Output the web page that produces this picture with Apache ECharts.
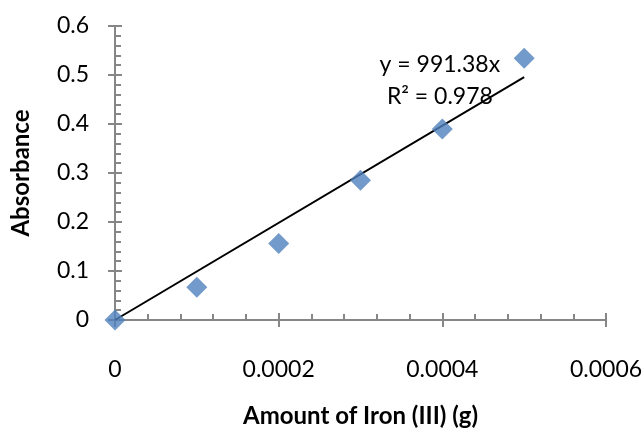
<!DOCTYPE html>
<html>
<head>
<meta charset="utf-8">
<script src="https://cdn.jsdelivr.net/npm/echarts@6/dist/echarts.min.js"></script>
<style>
  html, body { margin: 0; padding: 0; background: #fff; }
  #chart { width: 644px; height: 429px; }
</style>
</head>
<body>
<div id="chart"></div>
<script>
// Calibration: iron (III) mass vs. measured absorbance
const ironMass = [0, 0.0001, 0.0002, 0.0003, 0.0004, 0.0005];
const absorbance = [0, 0.067, 0.156, 0.285, 0.390, 0.534];
const slope = 991.38;
const rSquared = 0.978;
const xTickLabels = ['0', '0.0002', '0.0004', '0.0006'];
const yTickLabels = ['0', '0.1', '0.2', '0.3', '0.4', '0.5', '0.6'];

const FONT = 'Lato';
const AXIS_GREY = '#868686';

const points = ironMass.map((x, i) => [x, absorbance[i]]);
const xEnd = ironMass[ironMass.length - 1];
const trend = [[0, 0], [xEnd, slope * xEnd]];

const xLabel = v => xTickLabels[Math.round(v / 0.0002)] ?? '';
const yLabel = v => yTickLabels[Math.round(v / 0.1)] ?? '';

const xBase = {
  type: 'value', min: 0, max: 0.0006, interval: 0.0002,
  splitLine: { show: false }
};
const yBase = {
  type: 'value', min: 0, max: 0.6, interval: 0.1,
  splitLine: { show: false }
};

const chart = echarts.init(document.getElementById('chart'), null, { renderer: 'canvas' });
chart.setOption({
  animation: false,
  backgroundColor: '#ffffff',
  grid: {
    left: 115, right: 38, top: 26, bottom: 109,
    containLabel: false,
    outerBoundsMode: 'none'
  },
  xAxis: [
    Object.assign({}, xBase, {
      position: 'bottom',
      name: 'Amount of Iron (III) (g)',
      nameLocation: 'middle',
      nameGap: 84,
      nameTextStyle: { fontFamily: FONT, fontWeight: 'bold', fontSize: 24, color: '#000' },
      axisLine: { onZero: false, lineStyle: { color: AXIS_GREY, width: 2 } },
      axisTick: { inside: true, length: 7, lineStyle: { color: AXIS_GREY, width: 2 } },
      minorTick: { show: true, splitNumber: 5, length: 6, lineStyle: { color: AXIS_GREY, width: 2 } },
      axisLabel: { formatter: xLabel, margin: 38, fontFamily: FONT, fontSize: 23, color: '#000' }
    }),
    Object.assign({}, xBase, {
      position: 'bottom',
      axisLine: { show: false, onZero: false },
      axisTick: { inside: false, length: 7, lineStyle: { color: AXIS_GREY, width: 2 } },
      axisLabel: { show: false }
    })
  ],
  yAxis: [
    Object.assign({}, yBase, {
      position: 'left',
      name: 'Absorbance',
      nameLocation: 'middle',
      nameGap: 82,
      nameRotate: 90,
      nameTextStyle: { fontFamily: FONT, fontWeight: 'bold', fontSize: 24, color: '#000' },
      axisLine: { onZero: false, lineStyle: { color: AXIS_GREY, width: 2 } },
      axisTick: { inside: true, length: 7, lineStyle: { color: AXIS_GREY, width: 2 } },
      minorTick: { show: true, splitNumber: 5, length: 6, lineStyle: { color: AXIS_GREY, width: 2 } },
      axisLabel: { formatter: yLabel, margin: 26, fontFamily: FONT, fontSize: 23, color: '#000' }
    }),
    Object.assign({}, yBase, {
      position: 'left',
      axisLine: { show: false, onZero: false },
      axisTick: { inside: false, length: 7, lineStyle: { color: AXIS_GREY, width: 2 } },
      axisLabel: { show: false }
    })
  ],
  series: [
    {
      type: 'line',
      data: trend,
      symbol: 'none',
      lineStyle: { color: '#000', width: 2 },
      silent: true,
      z: 3,
      markPoint: {
        symbol: 'rect',
        symbolSize: 1,
        itemStyle: { color: 'rgba(0,0,0,0)' },
        label: {
          show: true,
          position: 'inside',
          fontFamily: FONT,
          fontSize: 23,
          lineHeight: 32,
          color: '#000',
          align: 'center',
          formatter: () => 'y = ' + slope.toFixed(2) + 'x\nR² = ' + rSquared.toFixed(3)
        },
        data: [{ coord: [0.000397, 0.488] }]
      }
    },
    {
      type: 'scatter',
      data: points,
      symbol: 'diamond',
      symbolSize: 21,
      itemStyle: { color: '#4F81BD' },
      z: 4
    }
  ]
});
</script>
</body>
</html>
